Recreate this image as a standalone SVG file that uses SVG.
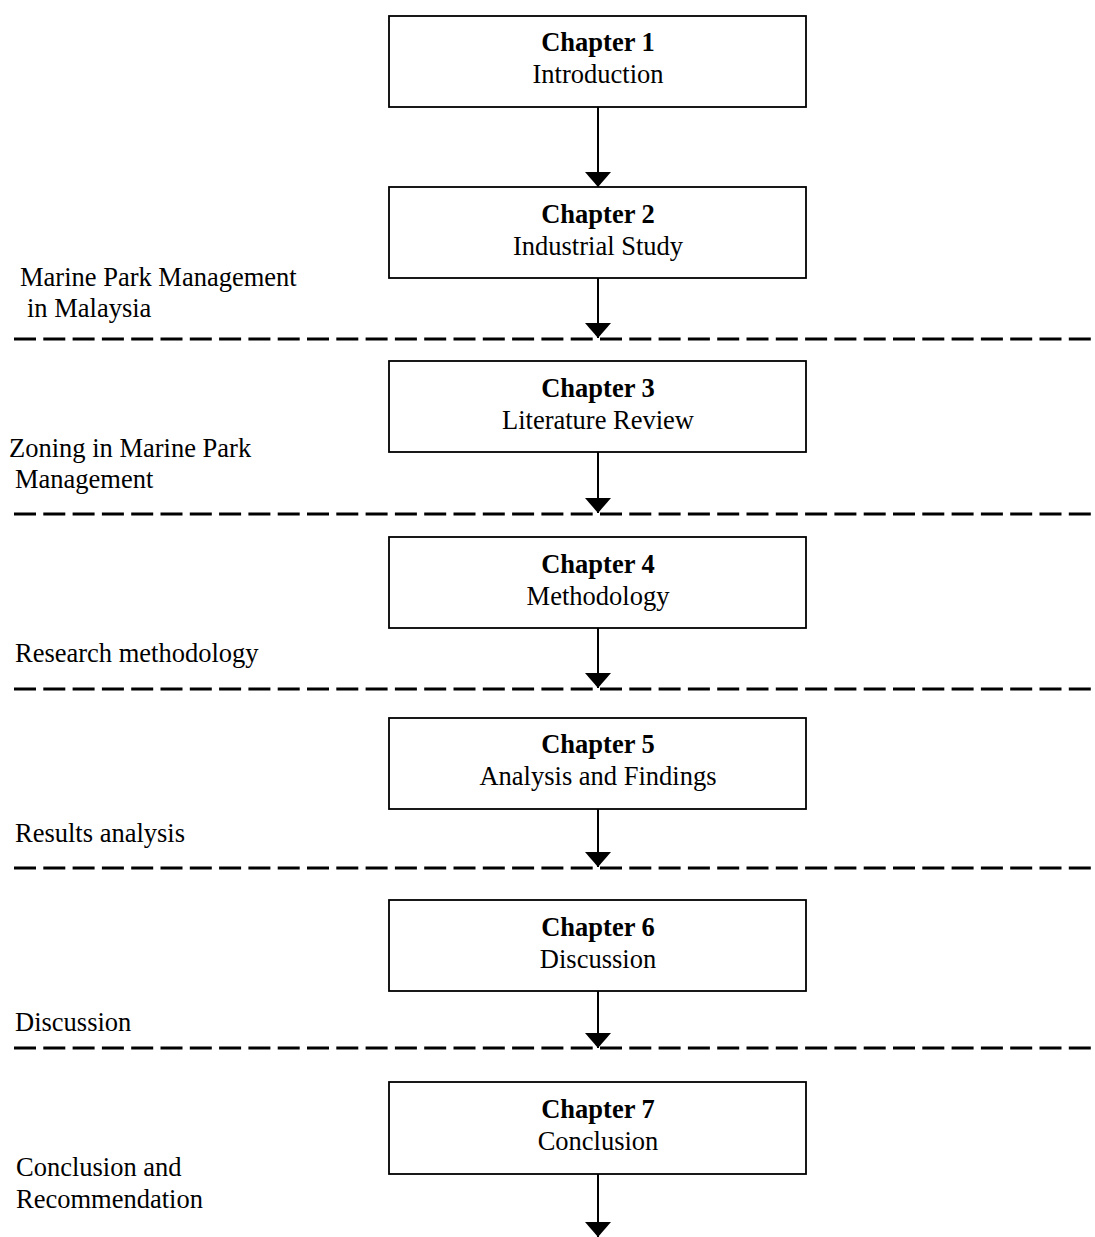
<svg xmlns="http://www.w3.org/2000/svg" width="1095" height="1237" viewBox="0 0 1095 1237">
<style>
.box{fill:#fff;stroke:#000;stroke-width:1.8}
.t{font-family:"Liberation Serif","Times New Roman",serif;font-size:26.5px;fill:#000}
.c{text-anchor:middle}
.b{font-weight:bold}
.arr{stroke:#000;stroke-width:2;fill:none}
.dash{stroke:#000;stroke-width:3;stroke-dasharray:22 7.3;fill:none}
</style>
<defs>
<marker id="ah" markerUnits="userSpaceOnUse" markerWidth="15" markerHeight="26" refX="15" refY="13" orient="auto" viewBox="0 0 15 26">
<path d="M0,0 L15,13 L0,26 Z" fill="#000"/>
</marker>
</defs>
<rect width="1095" height="1237" fill="#fff"/>
<g id="separators">
<line class="dash" x1="14" y1="339" x2="1095" y2="339"/>
<line class="dash" x1="14" y1="514" x2="1095" y2="514"/>
<line class="dash" x1="14" y1="689" x2="1095" y2="689"/>
<line class="dash" x1="14" y1="868" x2="1095" y2="868"/>
<line class="dash" x1="14" y1="1048" x2="1095" y2="1048"/>
</g>
<g id="connectors">
<line class="arr" x1="598" y1="107" x2="598" y2="187" marker-end="url(#ah)"/>
<line class="arr" x1="598" y1="278" x2="598" y2="338" marker-end="url(#ah)"/>
<line class="arr" x1="598" y1="452" x2="598" y2="513" marker-end="url(#ah)"/>
<line class="arr" x1="598" y1="628" x2="598" y2="688" marker-end="url(#ah)"/>
<line class="arr" x1="598" y1="809" x2="598" y2="867" marker-end="url(#ah)"/>
<line class="arr" x1="598" y1="991" x2="598" y2="1048" marker-end="url(#ah)"/>
<line class="arr" x1="598" y1="1174" x2="598" y2="1237" marker-end="url(#ah)"/>
</g>
<g id="ch1"><rect class="box" x="389" y="16" width="417" height="91"/><text class="t c b" x="598" y="51">Chapter 1</text><text class="t c" x="598" y="83">Introduction</text></g>
<g id="ch2"><rect class="box" x="389" y="187" width="417" height="91"/><text class="t c b" x="598" y="223">Chapter 2</text><text class="t c" x="598" y="255">Industrial Study</text></g>
<g id="ch3"><rect class="box" x="389" y="361" width="417" height="91"/><text class="t c b" x="598" y="397">Chapter 3</text><text class="t c" x="598" y="429">Literature Review</text></g>
<g id="ch4"><rect class="box" x="389" y="537" width="417" height="91"/><text class="t c b" x="598" y="573">Chapter 4</text><text class="t c" x="598" y="605">Methodology</text></g>
<g id="ch5"><rect class="box" x="389" y="718" width="417" height="91"/><text class="t c b" x="598" y="753">Chapter 5</text><text class="t c" x="598" y="785">Analysis and Findings</text></g>
<g id="ch6"><rect class="box" x="389" y="900" width="417" height="91"/><text class="t c b" x="598" y="936">Chapter 6</text><text class="t c" x="598" y="968">Discussion</text></g>
<g id="ch7"><rect class="box" x="389" y="1082" width="417" height="92"/><text class="t c b" x="598" y="1118">Chapter 7</text><text class="t c" x="598" y="1150">Conclusion</text></g>
<g id="labels">
<text class="t" x="20" y="286">Marine Park Management</text>
<text class="t" x="27" y="317">in Malaysia</text>
<text class="t" x="9" y="457">Zoning in Marine Park</text>
<text class="t" x="15" y="488">Management</text>
<text class="t" x="15" y="662">Research methodology</text>
<text class="t" x="15" y="842">Results analysis</text>
<text class="t" x="15" y="1031">Discussion</text>
<text class="t" x="16" y="1176">Conclusion and</text>
<text class="t" x="16" y="1208">Recommendation</text>
</g>
</svg>
